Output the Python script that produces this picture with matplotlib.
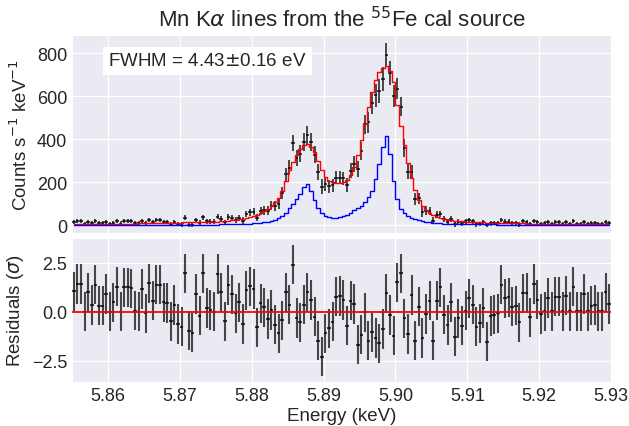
import numpy as np
import matplotlib
matplotlib.use('Agg')
import matplotlib.pyplot as plt
import seaborn as sns

# energy binning (keV)
E_LO = 5.855
BIN_W = 0.0005
nBINS = 150

# measured rate (counts s^-1 keV^-1)
rate = [14.4, 17.7, 17.7, 5.0, 13.9, 8.1, 18.8, 8.9, 8.9, 14.4,
        6.0, 10.5, 17.9, 7.0, 18.9, 18.9, 18.5, 7.5, 8.0, 19.5,
        7.2, 22.4, 14.7, 23.1, 23.1, 13.9, 14.6, 4.9, 13.6, 4.2,
        2.7, 33.6, 1.3, 0.9, 23.2, 11.7, 36.5, 17.2, 16.1, 16.0,
        38.8, 29.0, 12.0, 37.4, 33.6, 22.9, 33.8, 20.8, 50.7, 58.4,
        61.0, 34.2, 63.9, 68.2, 67.4, 90.0, 89.6, 100.1, 148.0, 235.9,
        267.3, 382.8, 312.8, 330.6, 386.6, 418.5, 386.1, 327.9, 245.4, 178.6,
        189.2, 180.3, 184.2, 219.6, 219.5, 216.5, 187.6, 253.5, 283.7, 260.8,
        346.1, 468.6, 478.1, 566.0, 603.4, 623.4, 681.2, 792.4, 708.6, 600.3,
        633.5, 549.8, 358.2, 248.6, 247.4, 120.4, 124.4, 60.5, 67.6, 66.2,
        21.0, 48.0, 51.7, 26.8, 15.7, 28.3, 3.6, 13.8, 8.4, 16.6,
        23.0, 18.1, 4.3, 5.4, 14.1, 0.5, 8.6, 8.4, 9.2, 23.1,
        15.9, 16.4, 10.6, 11.1, 2.7, 17.3, 16.1, 4.2, 20.5, 12.9,
        5.8, 7.2, 12.5, 6.2, 13.2, 13.2, 6.2, 13.6, 6.2, 17.9,
        5.2, 5.2, 13.1, 5.2, 7.8, 8.1, 5.2, 5.2, 13.9, 8.5]

rate_err = [9.0, 9.0, 9.0, 9.0, 9.0, 9.0, 9.3, 9.3, 9.3, 9.3,
            9.3, 9.3, 9.3, 9.6, 9.6, 9.6, 9.6, 9.6, 9.9, 9.9,
            9.9, 9.9, 10.2, 10.2, 10.2, 10.2, 10.5, 10.5, 10.5, 10.8,
            10.8, 11.0, 11.0, 11.3, 11.3, 11.5, 11.5, 11.7, 11.7, 11.9,
            11.9, 12.1, 12.3, 12.8, 13.2, 13.5, 14.1, 14.6, 15.2, 15.8,
            16.4, 17.2, 18.3, 19.2, 20.5, 21.8, 23.4, 25.4, 28.0, 31.2,
            34.3, 36.6, 38.2, 39.6, 40.6, 40.9, 40.1, 38.9, 36.9, 34.5,
            32.5, 31.4, 30.9, 30.6, 30.6, 30.8, 31.6, 33.1, 35.2, 38.2,
            41.8, 45.2, 48.6, 51.4, 53.4, 54.7, 55.4, 55.7, 55.0, 53.0,
            49.0, 44.8, 40.6, 36.3, 32.2, 28.1, 24.6, 22.0, 19.9, 18.3,
            16.9, 16.0, 15.1, 14.4, 13.7, 13.2, 12.8, 12.3, 12.1, 11.9,
            11.7, 11.5, 11.3, 11.0, 11.0, 10.8, 10.8, 10.5, 10.5, 10.2,
            10.2, 10.2, 9.9, 9.9, 9.9, 9.9, 9.6, 9.6, 9.6, 9.6,
            9.6, 9.6, 9.3, 9.3, 9.3, 9.3, 9.3, 9.3, 9.3, 9.3,
            9.0, 9.0, 9.0, 9.0, 9.0, 9.0, 9.0, 9.0, 9.0, 9.0]

# full model (red)
model = [5, 5, 5, 5, 5, 5, 6, 6, 6, 6,
         6, 6, 6, 7, 7, 7, 7, 7, 8, 8,
         8, 8, 9, 9, 9, 9, 10, 10, 10, 11,
         11, 12, 12, 13, 13, 14, 14, 15, 15, 16,
         16, 17, 18, 20, 22, 24, 27, 30, 34, 38,
         42, 48, 56, 64, 75, 88, 105, 128, 160, 205,
         255, 295, 325, 352, 372, 378, 362, 338, 300, 258,
         225, 207, 200, 196, 195, 198, 210, 235, 270, 325,
         395, 470, 550, 620, 675, 712, 730, 740, 718, 665,
         560, 462, 372, 290, 220, 162, 118, 90, 70, 56,
         46, 39, 33, 29, 25, 22, 20, 18, 17, 16,
         15, 14, 13, 12, 12, 11, 11, 10, 10, 9,
         9, 9, 8, 8, 8, 8, 7, 7, 7, 7,
         7, 7, 6, 6, 6, 6, 6, 6, 6, 6,
         5, 5, 5, 5, 5, 5, 5, 5, 5, 5]

# blue component
model_b = [1, 1, 1, 1, 1, 1, 1, 1, 1, 1,
           1, 1, 1, 1, 1, 1, 1, 1, 1, 1,
           1, 1, 1, 1, 1, 1, 1, 1, 1, 1,
           2, 2, 2, 2, 2, 2, 2, 2, 2, 2,
           2, 3, 3, 3, 4, 4, 5, 5, 6, 7,
           8, 9, 10, 12, 15, 19, 25, 33, 44, 58,
           78, 98, 120, 145, 177, 190, 157, 118, 80, 55,
           42, 37, 35, 34, 36, 41, 48, 57, 68, 80,
           90, 107, 132, 160, 213, 283, 364, 412, 330, 205,
           120, 76, 55, 43, 35, 28, 23, 19, 15, 12,
           10, 9, 8, 7, 6, 6, 5, 5, 4, 4,
           4, 4, 3, 3, 3, 3, 3, 3, 2, 2,
           2, 2, 2, 2, 2, 2, 2, 2, 2, 2,
           2, 2, 2, 2, 2, 2, 2, 2, 2, 2,
           1, 1, 1, 1, 1, 1, 1, 1, 1, 1]

# residuals in sigma
resid = [1.04, 1.41, 1.41, 0.0, 0.99, 0.34, 1.38, 0.31, 0.31, 0.90,
         0.0, 0.48, 1.28, 0.0, 1.24, 1.24, 1.20, 0.05, 0.0, 1.16,
         -0.08, 1.45, 0.56, 1.38, 1.38, 0.48, 0.44, -0.49, 0.34, -0.63,
         -0.77, 1.96, -0.97, -1.07, 0.90, -0.20, 1.96, 0.19, 0.09, 0.0,
         1.92, 0.99, -0.49, 1.36, 0.88, -0.08, 0.48, -0.63, 1.10, 1.29,
         1.16, -0.80, 0.43, 0.22, -0.37, 0.09, -0.66, -1.10, -0.43, 0.99,
         0.36, 2.40, -0.32, -0.54, 0.36, 0.99, 0.60, -0.26, -1.48, -2.30,
         -1.10, -0.85, -0.51, 0.77, 0.80, 0.60, -0.71, 0.56, 0.39, -1.68,
         -1.17, -0.03, -1.48, -1.05, -1.34, -1.62, -0.88, 0.94, -0.17, -1.22,
         1.50, 1.96, -0.34, -1.14, 0.85, -1.48, 0.26, -1.34, -0.12, 0.56,
         -1.48, 0.56, 1.24, -0.15, -0.68, 0.48, -1.28, -0.34, -0.71, 0.05,
         0.68, 0.36, -0.77, -0.60, 0.19, -1.53, -0.22, -0.15, -0.08, 1.38,
         0.68, 0.73, 0.26, 0.31, -0.54, 0.94, 0.95, -0.29, 1.41, 0.61,
         -0.12, 0.02, 0.70, 0.02, 0.77, 0.77, 0.02, 0.82, 0.02, 1.28,
         0.02, 0.02, 0.90, 0.02, 0.31, 0.34, 0.02, 0.02, 0.99, 0.39]

energy = E_LO + BIN_W*(np.arange(nBINS) + 0.5)

sns.set_style('darkgrid')
plt.rcParams['font.family'] = ['Liberation Sans', 'DejaVu Sans']

fig = plt.figure(figsize=(6.29, 4.27), dpi=100)
ax1 = fig.add_axes([0.1145, 0.452, 0.857, 0.4637])
ax2 = fig.add_axes([0.1145, 0.103, 0.857, 0.3373], sharex=ax1)

# top: spectrum + model
ax1.errorbar(energy, rate, xerr=BIN_W/2, yerr=rate_err, fmt='none',
             ecolor='k', elinewidth=1.3, alpha=0.75, zorder=3)
ax1.step(energy, model, where='mid', color='r', lw=1.0, zorder=4)
ax1.step(energy, model_b, where='mid', color='b', lw=1.0, zorder=4)
ax1.set_ylim(-37, 884)
ax1.set_yticks([0, 200, 400, 600, 800])
ax1.set_ylabel('Counts s$^{-1}$ keV$^{-1}$', fontsize=13.5)
ax1.tick_params(labelsize=13, labelbottom=False, length=0, pad=3.5)
ax1.set_title('Mn K$\\alpha$ lines from the $^{55}$Fe cal source', fontsize=16)
ax1.text(0.067, 0.87, 'FWHM = 4.43$\\pm$0.16 eV', transform=ax1.transAxes,
         fontsize=13.5, va='center',
         bbox=dict(facecolor='white', edgecolor='none', pad=4))

# bottom: residuals
ax2.errorbar(energy, resid, xerr=BIN_W/2, yerr=1.0, fmt='none',
             ecolor='k', elinewidth=1.5, alpha=0.7, zorder=3)
ax2.axhline(0, color='r', lw=1.3, zorder=4)
ax2.set_ylim(-3.59, 3.76)
ax2.set_yticks([-2.5, 0.0, 2.5])
ax2.set_xlim(5.855, 5.93)
ax2.set_xticks([5.86, 5.87, 5.88, 5.89, 5.90, 5.91, 5.92, 5.93])
ax2.set_xticklabels(['5.86', '5.87', '5.88', '5.89', '5.90', '5.91', '5.92', '5.93'])
ax2.set_ylabel('Residuals ($\\sigma$)', fontsize=13.5)
ax2.set_xlabel('Energy (keV)', fontsize=13.5, labelpad=2)
ax2.tick_params(labelsize=13, length=0, pad=3.5)

fig.savefig('out.png', dpi=100)
